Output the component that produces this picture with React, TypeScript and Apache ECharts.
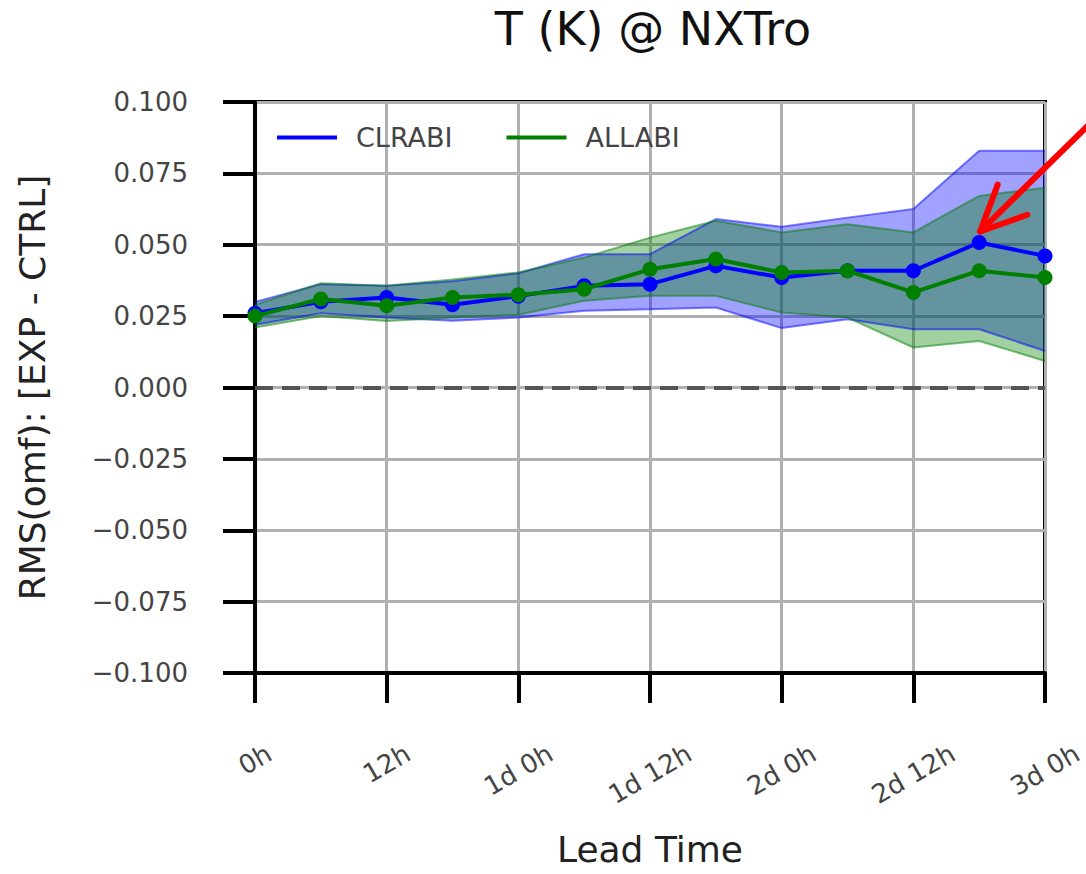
import React, { useEffect, useRef } from "react";
import * as echarts from "echarts";

const hours = [0, 6, 12, 18, 24, 30, 36, 42, 48, 54, 60, 66, 72];
const xTickValues = [0, 12, 24, 36, 48, 60, 72];
const xTickLabels = ["0h", "12h", "1d 0h", "1d 12h", "2d 0h", "2d 12h", "3d 0h"];

const clrMean = [0.026, 0.030, 0.0315, 0.029, 0.032, 0.0356, 0.0362, 0.0426, 0.0385, 0.0409, 0.0409, 0.0508, 0.0461];
const clrUpper = [0.030, 0.0362, 0.0356, 0.0372, 0.040, 0.0467, 0.0467, 0.059, 0.0563, 0.0595, 0.0625, 0.0829, 0.0829];
const clrLower = [0.022, 0.026, 0.0245, 0.0234, 0.0245, 0.0269, 0.0274, 0.028, 0.0208, 0.0239, 0.0204, 0.0204, 0.0128];

const allMean = [0.025, 0.031, 0.0286, 0.0315, 0.0325, 0.0344, 0.0414, 0.0450, 0.0403, 0.0409, 0.0333, 0.0409, 0.0385];
const allUpper = [0.029, 0.0365, 0.0356, 0.0378, 0.0403, 0.0455, 0.0525, 0.0584, 0.0543, 0.0572, 0.0543, 0.0671, 0.070];
const allLower = [0.021, 0.025, 0.0233, 0.0245, 0.0255, 0.0304, 0.0321, 0.0321, 0.0263, 0.0245, 0.014, 0.0163, 0.0093];

const BLUE = "#0000ff";
const GREEN = "#008000";
const FONT = "DejaVu Sans";
const TICK_FONT_SIZE = 26;

const diffs = (up: number[], lo: number[]) => up.map((u, i) => u - lo[i]);

function bandSeries(key: string, color: string, lo: number[], up: number[]) {
  const edge = { color, opacity: 0.5, width: 2 };
  return [
    {
      type: "line",
      name: key + "_lo",
      data: lo,
      stack: key,
      symbol: "none",
      silent: true,
      lineStyle: edge,
      z: 2,
    },
    {
      type: "line",
      name: key + "_band",
      data: diffs(up, lo),
      stack: key,
      symbol: "none",
      silent: true,
      lineStyle: edge,
      areaStyle: { color, opacity: 0.37 },
      z: 2,
    },
  ];
}

const everyOther = (i: number) => i % 2 === 0;

export default function App() {
  const ref = useRef<HTMLDivElement>(null);

  useEffect(() => {
    document.body.style.margin = "0";
    const chart = echarts.init(ref.current!, null, { renderer: "svg" });
    const option: any = {
      animation: false,
      backgroundColor: "#ffffff",
      title: {
        text: "T (K) @ NXTro",
        left: 648,
        textAlign: "center",
        top: 1,
        textStyle: { fontFamily: FONT, fontSize: 46, fontWeight: "normal", color: "#111" },
      },
      legend: {
        data: [
          { name: "CLRABI", icon: "rect" },
          { name: "ALLABI", icon: "rect" },
        ],
        left: 277,
        top: 124,
        padding: 0,
        itemWidth: 60,
        itemHeight: 4,
        itemGap: 54,
        textStyle: { fontFamily: FONT, fontSize: 27, color: "#444", padding: [0, 0, 0, 14] },
      },
      grid: {
        left: 255,
        right: 41,
        top: 102,
        bottom: 201,
        outerBoundsMode: "none",
        containLabel: false,
        show: true,
        borderColor: "#000",
        borderWidth: 4,
        backgroundColor: "transparent",
      },
      xAxis: {
        type: "category",
        data: hours.map(String),
        boundaryGap: false,
        name: "Lead Time",
        nameLocation: "middle",
        nameGap: 158,
        nameTextStyle: { fontFamily: FONT, fontSize: 36, lineHeight: 36, color: "#222" },
        axisLine: { show: true, onZero: false, lineStyle: { color: "#000", width: 4 } },
        axisTick: { show: true, interval: everyOther, length: 30, lineStyle: { color: "#000", width: 4 } },
        axisLabel: { show: false },
        splitLine: { show: true, interval: everyOther, lineStyle: { color: "#b0b0b0", width: 3 } },
      },
      yAxis: {
        type: "value",
        min: -0.1,
        max: 0.1,
        interval: 0.025,
        name: "RMS(omf): [EXP - CTRL]",
        nameLocation: "middle",
        nameRotate: 90,
        nameGap: 205,
        nameTextStyle: { fontFamily: FONT, fontSize: 36, color: "#222" },
        axisLine: { show: true, lineStyle: { color: "#000", width: 4 } },
        axisTick: { show: true, length: 32, lineStyle: { color: "#000", width: 4 } },
        axisLabel: {
          margin: 67,
          fontFamily: FONT,
          fontSize: TICK_FONT_SIZE,
          color: "#444",
          formatter: (v: number) => {
            const s = Math.abs(v).toFixed(3);
            return v < -1e-9 ? "\u2212" + s : s;
          },
        },
        splitLine: { show: true, lineStyle: { color: "#b0b0b0", width: 3 } },
      },
      series: [
        ...bandSeries("clr", BLUE, clrLower, clrUpper),
        ...bandSeries("all", GREEN, allLower, allUpper),
        {
          type: "line",
          name: "zero",
          data: [],
          silent: true,
          markLine: {
            silent: true,
            symbol: "none",
            label: { show: false },
            lineStyle: { color: "#555", width: 4, type: [18, 9] },
            data: [{ yAxis: 0 }],
          },
          z: 3,
        },
        {
          type: "line",
          name: "CLRABI",
          data: clrMean,
          color: BLUE,
          symbol: "circle",
          symbolSize: 15,
          lineStyle: { color: BLUE, width: 4 },
          itemStyle: { color: BLUE },
          z: 4,
        },
        {
          type: "line",
          name: "ALLABI",
          data: allMean,
          color: GREEN,
          symbol: "circle",
          symbolSize: 15,
          lineStyle: { color: GREEN, width: 4 },
          itemStyle: { color: GREEN },
          z: 5,
        },
      ],
    };
    chart.setOption(option);

    // rotated x tick labels (rotated bbox centered on the tick, tops aligned)
    const canvas = document.createElement("canvas");
    const ctx = canvas.getContext("2d")!;
    ctx.font = `${TICK_FONT_SIZE}px "${FONT}"`;
    const axisY = chart.convertToPixel({ yAxisIndex: 0 }, -0.1) as number;
    const ang = Math.PI / 6;
    const labelTop = axisY + 70;
    const texts = xTickValues.map((v, i) => {
      const x = chart.convertToPixel({ xAxisIndex: 0 }, String(v)) as number;
      const w = ctx.measureText(xTickLabels[i]).width;
      const halfH = (w * Math.sin(ang) + 19 * Math.cos(ang)) / 2;
      return {
        type: "text",
        x,
        y: labelTop + halfH,
        rotation: ang,
        silent: true,
        style: {
          text: xTickLabels[i],
          fontFamily: FONT,
          fontSize: TICK_FONT_SIZE,
          fill: "#444",
          align: "center",
          verticalAlign: "middle",
        },
      };
    });

    // red annotation arrow pointing at the CLRABI 2d 18h point
    const target = chart.convertToPixel({ gridIndex: 0 }, [String(hours[11]), clrMean[11]]) as number[];
    const tip = [target[0] + 1, target[1] - 11];
    const dir = [0.714, -0.701];
    const tail = [tip[0] + dir[0] * 170, tip[1] + dir[1] * 170];
    const wingLen = 50;
    const rot = (a: number) => [
      dir[0] * Math.cos(a) - dir[1] * Math.sin(a),
      dir[0] * Math.sin(a) + dir[1] * Math.cos(a),
    ];
    const w1 = rot((25 * Math.PI) / 180);
    const w2 = rot((-25 * Math.PI) / 180);
    const arrowStyle = { stroke: "#ff0000", lineWidth: 6, lineCap: "round", lineJoin: "round", fill: null };

    chart.setOption({
      graphic: [
        ...texts,
        {
          type: "polyline",
          silent: true,
          z: 100,
          shape: { points: [tail, tip] },
          style: arrowStyle,
        },
        {
          type: "polyline",
          silent: true,
          z: 100,
          shape: {
            points: [
              [tip[0] + w1[0] * wingLen, tip[1] + w1[1] * wingLen],
              tip,
              [tip[0] + w2[0] * wingLen, tip[1] + w2[1] * wingLen],
            ],
          },
          style: arrowStyle,
        },
      ],
    });

    return () => chart.dispose();
  }, []);

  return <div ref={ref} style={{ width: 1086, height: 874 }} />;
}
